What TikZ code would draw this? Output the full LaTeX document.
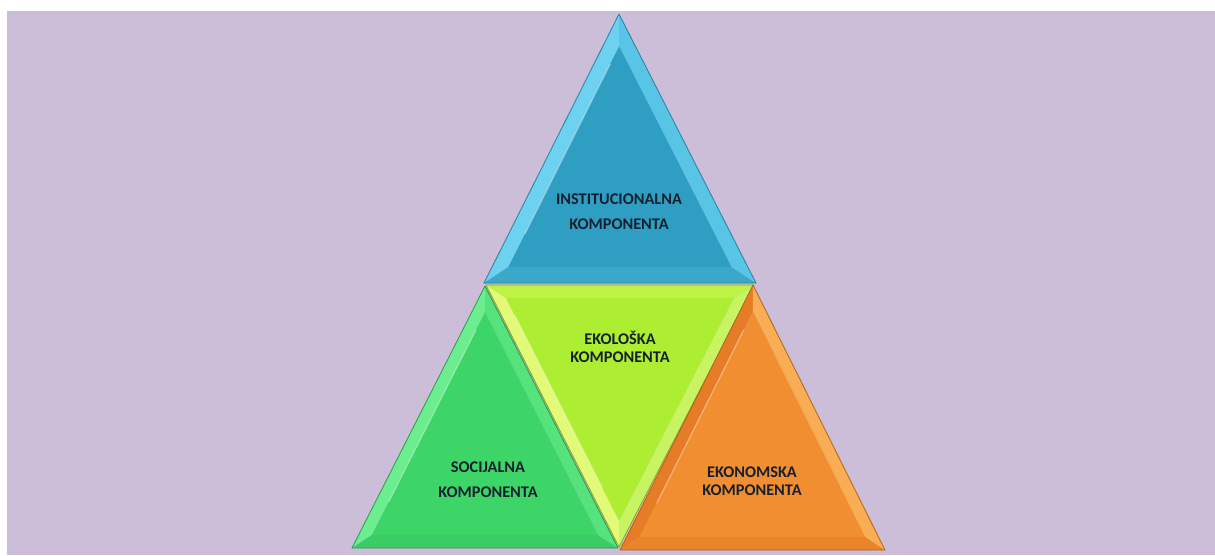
\documentclass[tikz,border=0pt]{standalone}
\usepackage{fontspec}
\setmainfont{Carlito}
\usetikzlibrary{calc}
\definecolor{bgc}{HTML}{CCBED8}
\definecolor{txt}{HTML}{16202E}
% blue
\definecolor{bL}{HTML}{6CD2F0}\definecolor{bR}{HTML}{58C4E6}\definecolor{bB}{HTML}{3AA8C8}\definecolor{bI}{HTML}{2E9EC2}\definecolor{bO}{HTML}{2A7F99}
% green
\definecolor{gL}{HTML}{6CEE90}\definecolor{gR}{HTML}{56E27C}\definecolor{gB}{HTML}{3CCC66}\definecolor{gI}{HTML}{3DD468}\definecolor{gO}{HTML}{2A9A48}
% yellow
\definecolor{yT}{HTML}{BEF244}\definecolor{yL}{HTML}{E2FA78}\definecolor{yR}{HTML}{C8F464}\definecolor{yI}{HTML}{AEEE32}\definecolor{yO}{HTML}{7FA820}
% orange
\definecolor{oL}{HTML}{E67C26}\definecolor{oR}{HTML}{F8AE54}\definecolor{oB}{HTML}{EA8428}\definecolor{oI}{HTML}{F28E32}\definecolor{oO}{HTML}{B86018}
\tikzset{
  lbl/.style={text=txt,align=center,font=\fontsize{16.3}{25}\selectfont\bfseries},
  lbls/.style={text=txt,align=center,font=\fontsize{16.3}{18}\selectfont\bfseries},
}
% #1..#3 outer vertices, #4 inset factor, #5..#7 band colours (edge 1-2, 2-3, 3-1), #8 inner, #9 outline
\newcommand{\bevtri}[9]{%
  \coordinate (G) at ($1/3*(#1)+1/3*(#2)+1/3*(#3)$);
  \coordinate (P1) at ($(#1)!#4!(G)$);
  \coordinate (P2) at ($(#2)!#4!(G)$);
  \coordinate (P3) at ($(#3)!#4!(G)$);
  \fill[#5] (#1) -- (#2) -- (P2) -- (P1) -- cycle;
  \fill[#6] (#2) -- (#3) -- (P3) -- (P2) -- cycle;
  \fill[#7] (#3) -- (#1) -- (P1) -- (P3) -- cycle;
  \fill[#8] (P1) -- (P2) -- (P3) -- cycle;
  \draw[white,opacity=0.35,line width=1.2pt] ($(P1)!0.08!(P2)$) -- ($(P1)!0.85!(P2)$);
  \draw[#9,line width=0.8pt,line join=round] (#1) -- (#2) -- (#3) -- cycle;
}
\begin{document}
\begin{tikzpicture}[x=1pt,y=-1pt]
\useasboundingbox (0,0) rectangle (1215,555);
\fill[white] (0,0) rectangle (1215,555);
\fill[bgc] (7,11) rectangle (1215,555);
% vertices
\coordinate (bA) at (619,14);  \coordinate (bB) at (484,283); \coordinate (bC) at (756,283);
\coordinate (gA) at (485,286); \coordinate (gB) at (352,548); \coordinate (gC) at (618,548);
\coordinate (yA) at (486,285); \coordinate (yB) at (619,547); \coordinate (yC) at (754,285);
\coordinate (oA) at (753,285); \coordinate (oB) at (620,550); \coordinate (oC) at (885,550);
% triangles
\bevtri{bA}{bB}{bC}{0.18}{bL}{bB}{bR}{bI}{bO}
\bevtri{yA}{yB}{yC}{0.15}{yL}{yR}{yT}{yI}{yO}
\bevtri{gA}{gB}{gC}{0.15}{gL}{gB}{gR}{gI}{gO}
\bevtri{oA}{oB}{oC}{0.15}{oL}{oB}{oR}{oI}{oO}
% labels
\node[lbl]  (inst) at (619,212) {INSTITUCIONALNA\\KOMPONENTA};
\node[lbls] (eko)  at (620,347) {EKOLOŠKA\\KOMPONENTA};
\node[lbl]  (soc)  at (488,480) {SOCIJALNA\\KOMPONENTA};
\node[lbls] (ekon) at (752,481) {EKONOMSKA\\KOMPONENTA};
\end{tikzpicture}
\end{document}
